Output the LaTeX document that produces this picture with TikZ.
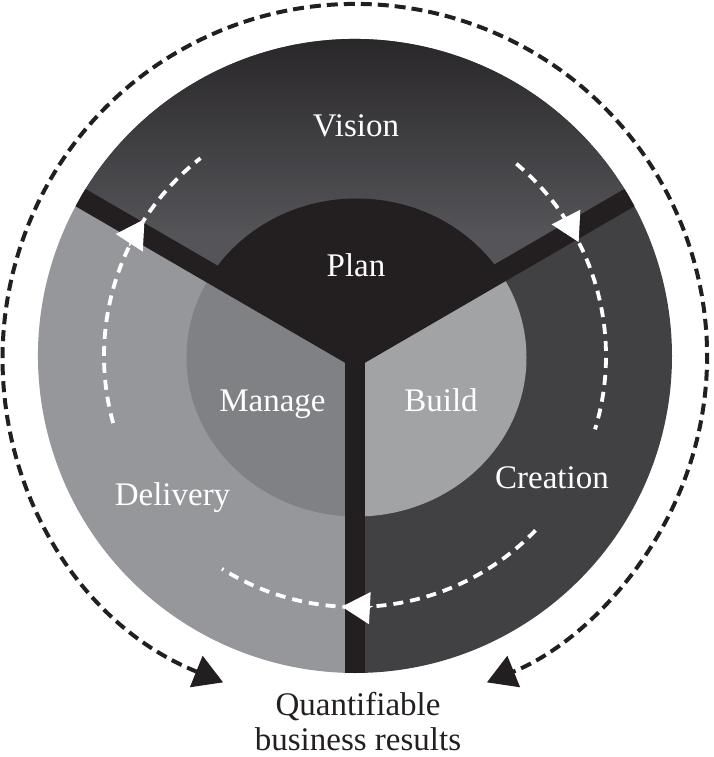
\documentclass[tikz,border=0pt]{standalone}
\usepackage{fontspec}
\setmainfont{Liberation Serif}
\usetikzlibrary{arrows.meta}
\definecolor{VisionTop}{HTML}{29272A}
\definecolor{VisionLow}{HTML}{555458}
\definecolor{CreationGrey}{HTML}{414042}
\definecolor{DeliveryGrey}{HTML}{96979B}
\definecolor{PlanBlack}{HTML}{231F20}
\definecolor{ManageGrey}{HTML}{808185}
\definecolor{BuildGrey}{HTML}{A2A3A5}

\begin{document}
\begin{tikzpicture}[x=1pt,y=1pt,ring/.style={draw=PlanBlack, line width=4pt, dash pattern=on 11pt off 6pt},flow/.style={draw=white, line width=3.8pt, dash pattern=on 10pt off 7pt},flowtip/.style={draw=white, fill=white, line width=1pt, -{Triangle[length=28pt,width=32pt]}},arm/.style={draw=PlanBlack, line width=20pt},word/.style={text=white, font=\fontsize{33}{35}\selectfont, inner sep=0pt, anchor=base}]
\useasboundingbox (-355,-401) rectangle (358,356);
\draw[ring, {Triangle[length=29pt,width=33pt]}-{Triangle[length=29pt,width=33pt]}] (248:352) arc[start angle=248, end angle=-68, radius=352];
\fill[VisionLow] (0,0) -- (30:317) arc[start angle=30, end angle=150, radius=317] -- cycle;
\begin{scope}
\clip (0,0) -- (30:317) arc[start angle=30, end angle=150, radius=317] -- cycle;
\shade[top color=VisionTop, bottom color=VisionLow] (-317,120) rectangle (317,317);
\end{scope}
\fill[CreationGrey] (0,0) -- (-90:317) arc[start angle=-90, end angle=30, radius=317] -- cycle;
\fill[DeliveryGrey] (0,0) -- (150:317) arc[start angle=150, end angle=270, radius=317] -- cycle;
\begin{scope}
\clip (1.5,-1.5) ellipse[x radius=170, y radius=159];
\fill[PlanBlack] (0,0) -- (30:400) -- (90:400) -- (150:400) -- cycle;
\fill[BuildGrey] (0,0) -- (-90:400) -- (-30:400) -- (30:400) -- cycle;
\fill[ManageGrey] (0,0) -- (150:400) -- (210:400) -- (270:400) -- cycle;
\end{scope}
\begin{scope}
\clip (0,0) circle[radius=317];
\foreach \a in {30,150,270} {\draw[arm, line cap=round] (0,-1) -- (\a:330);}
\end{scope}
\draw[flow] (195.5:251) arc[start angle=195.5, end angle=128, radius=251];
\draw[flow] (50:251) arc[start angle=50, end angle=-17, radius=251];
\draw[flow] (-44:251) arc[start angle=-44, end angle=-122, radius=251];
\foreach \a in {30,150,270} {\draw[flowtip] ({\a+4}:251) arc[start angle={\a+4}, end angle={\a-3}, radius=251];}
\node[word] (vision) at (1,219) {Vision};
\node[word] (plan) at (1,79) {Plan};
\node[word] (manage) at (-82.5,-56) {Manage};
\node[word] (build) at (86,-56) {Build};
\node[word] (delivery) at (-182.5,-149) {Delivery};
\node[word] (creation) at (197,-132) {Creation};
\node[word, text=PlanBlack, align=center] (results) at (3,-394) {Quantifiable\\business results};
\end{tikzpicture}
\end{document}
